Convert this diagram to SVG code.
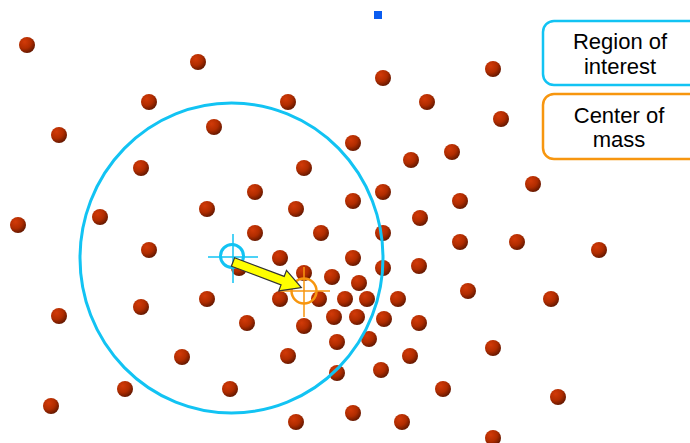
<svg xmlns="http://www.w3.org/2000/svg" width="690" height="443" viewBox="0 0 690 443">
<defs>
<radialGradient id="ball" cx="0.35" cy="0.3" r="0.75">
<stop offset="0" stop-color="#d23a08"/>
<stop offset="0.55" stop-color="#b02c00"/>
<stop offset="1" stop-color="#5e1600"/>
</radialGradient>
<symbol id="d" overflow="visible"><circle r="8" fill="url(#ball)"/></symbol>
</defs>
<style>
.lbl{font-family:"Liberation Sans",Arial,sans-serif;font-size:22px;fill:#000;text-anchor:middle}
.roi{fill:none;stroke:#12c3f3;stroke-width:3}
.com{fill:none;stroke:#f7960f;stroke-width:2.5}
</style>
<rect width="690" height="443" fill="#fff"/>
<rect x="374" y="11" width="8" height="8" fill="#0a5cf0"/>
<g id="particles">
<use href="#d" x="27" y="45"/><use href="#d" x="198" y="62"/><use href="#d" x="383" y="78"/><use href="#d" x="493" y="69"/>
<use href="#d" x="149" y="102"/><use href="#d" x="288" y="102"/><use href="#d" x="427" y="102"/><use href="#d" x="501" y="119"/>
<use href="#d" x="59" y="135"/><use href="#d" x="214" y="127"/><use href="#d" x="353" y="143"/><use href="#d" x="452" y="152"/>
<use href="#d" x="411" y="160"/><use href="#d" x="141" y="168"/><use href="#d" x="304" y="168"/><use href="#d" x="533" y="184"/>
<use href="#d" x="255" y="192"/><use href="#d" x="383" y="192"/><use href="#d" x="353" y="201"/><use href="#d" x="460" y="201"/>
<use href="#d" x="207" y="209"/><use href="#d" x="296" y="209"/><use href="#d" x="100" y="217"/><use href="#d" x="18" y="225"/>
<use href="#d" x="420" y="218"/><use href="#d" x="255" y="233"/><use href="#d" x="321" y="233"/><use href="#d" x="383" y="233"/>
<use href="#d" x="460" y="242"/><use href="#d" x="517" y="242"/><use href="#d" x="599" y="250"/><use href="#d" x="149" y="250"/>
<use href="#d" x="280" y="258"/><use href="#d" x="353" y="258"/><use href="#d" x="383" y="268"/><use href="#d" x="419" y="266"/>
<use href="#d" x="239" y="268"/><use href="#d" x="304" y="273"/><use href="#d" x="332" y="277"/><use href="#d" x="359" y="283"/>
<use href="#d" x="207" y="299"/><use href="#d" x="280" y="299"/><use href="#d" x="319" y="299"/><use href="#d" x="345" y="299"/>
<use href="#d" x="367" y="299"/><use href="#d" x="398" y="299"/><use href="#d" x="468" y="291"/><use href="#d" x="551" y="299"/>
<use href="#d" x="141" y="307"/><use href="#d" x="59" y="316"/><use href="#d" x="247" y="323"/><use href="#d" x="304" y="326"/>
<use href="#d" x="334" y="317"/><use href="#d" x="357" y="317"/><use href="#d" x="384" y="319"/><use href="#d" x="419" y="323"/>
<use href="#d" x="337" y="342"/><use href="#d" x="369" y="339"/><use href="#d" x="493" y="348"/><use href="#d" x="182" y="357"/>
<use href="#d" x="288" y="356"/><use href="#d" x="410" y="356"/><use href="#d" x="337" y="373"/><use href="#d" x="381" y="370"/>
<use href="#d" x="125" y="389"/><use href="#d" x="230" y="389"/><use href="#d" x="443" y="389"/><use href="#d" x="558" y="397"/>
<use href="#d" x="51" y="406"/><use href="#d" x="353" y="413"/><use href="#d" x="296" y="422"/><use href="#d" x="402" y="422"/>
<use href="#d" x="493" y="438"/>
</g>
<g id="region">
<ellipse class="roi" cx="231.5" cy="258" rx="151.5" ry="155"/>
</g>
<g id="roi-center">
<path d="M208 257H258M233 234V283" stroke="#12c3f3" stroke-width="1.5"/>
<circle class="roi" cx="232" cy="256" r="11.5" stroke-width="2.5"/>
</g>
<g id="mass-center">
<path d="M280 291H330M304 267V317" stroke="#f7960f" stroke-width="1.5"/>
<circle class="com" cx="304" cy="291" r="12.5"/>
</g>
<g id="connectors">
<polygon transform="translate(233,262) rotate(20.6)" points="0,-4.5 53,-4.5 53,-11 73,0 53,11 53,4.5 0,4.5" fill="#ffff00" stroke="#333" stroke-width="1.2" stroke-linejoin="miter"/>
</g>
<g id="legend-roi">
<rect x="543" y="21" width="160" height="64" rx="11" fill="#fff" stroke="#12c3f3" stroke-width="2.5"/>
<text class="lbl" x="620" y="49">Region of</text>
<text class="lbl" x="620" y="74">interest</text>
</g>
<g id="legend-com">
<rect x="543" y="94" width="160" height="65" rx="11" fill="#fff" stroke="#f7960f" stroke-width="2.5"/>
<text class="lbl" x="619" y="123">Center of</text>
<text class="lbl" x="619" y="147">mass</text>
</g>
</svg>
